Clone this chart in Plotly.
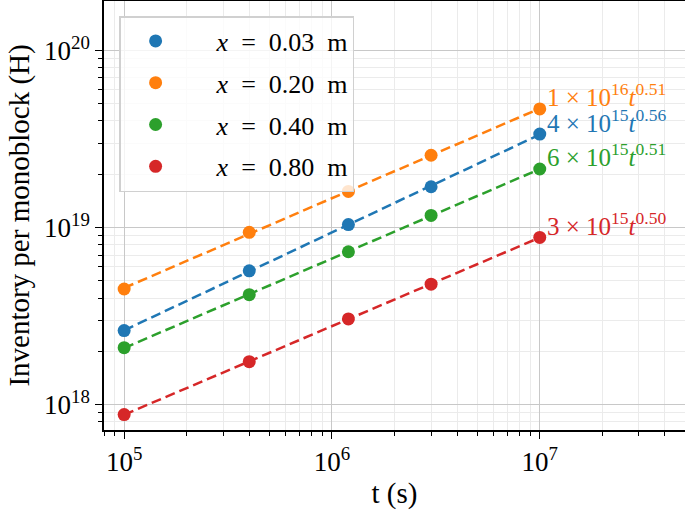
import numpy as np
import plotly.graph_objects as go

t_values = [1e5, 4e5, 1.2e6, 3e6, 1e7]
series_names = ["&nbsp;&nbsp;&nbsp;&nbsp;<i>x</i>&nbsp; = &nbsp;0.03 &nbsp;m",
                "&nbsp;&nbsp;&nbsp;&nbsp;<i>x</i>&nbsp; = &nbsp;0.20 &nbsp;m",
                "&nbsp;&nbsp;&nbsp;&nbsp;<i>x</i>&nbsp; = &nbsp;0.40 &nbsp;m",
                "&nbsp;&nbsp;&nbsp;&nbsp;<i>x</i>&nbsp; = &nbsp;0.80 &nbsp;m"]
inv_x003 = [2.62e18, 5.7e18, 1.04e19, 1.70e19, 3.37e19]
inv_x020 = [4.5e18, 9.4e18, 1.6e19, 2.56e19, 4.67e19]
inv_x040 = [2.1e18, 4.18e18, 7.3e18, 1.17e19, 2.14e19]
inv_x080 = [8.8e17, 1.75e18, 3.05e18, 4.79e18, 8.8e18]
fit_labels = ["4 × 10<sup>15</sup><i>t</i><sup>0.56</sup>",
              "1 × 10<sup>16</sup><i>t</i><sup>0.51</sup>",
              "6 × 10<sup>15</sup><i>t</i><sup>0.51</sup>",
              "3 × 10<sup>15</sup><i>t</i><sup>0.50</sup>"]
colors = ["#1f77b4", "#ff7f0e", "#2ca02c", "#d62728"]
x_tickvals = [1e5, 1e6, 1e7]
x_ticktext = ["10<sup>5</sup>", "10<sup>6</sup>", "10<sup>7</sup>"]
y_tickvals = [1e18, 1e19, 1e20]
y_ticktext = ["10<sup>18</sup>", "10<sup>19</sup>", "10<sup>20</sup>"]

FONT = "Liberation Serif"
fig = go.Figure()
all_series = [inv_x003, inv_x020, inv_x040, inv_x080]
t = np.array(t_values)
for i, (name, vals) in enumerate(zip(series_names, all_series)):
    v = np.array(vals)
    p = np.polyfit(np.log10(t), np.log10(v), 1)
    fit = 10 ** np.polyval(p, np.log10(t))
    fig.add_trace(go.Scatter(x=t, y=fit, mode="lines", line=dict(color=colors[i], width=2.5, dash="10px,5px"),
                             showlegend=False, hoverinfo="skip"))
    fig.add_trace(go.Scatter(x=t, y=v, mode="markers", name=name, legendgroup=f"g{i}",
                             marker=dict(color=colors[i], size=13)))
    fig.add_annotation(x=np.log10(t[-1]), y=np.log10(fit[-1]), text=fit_labels[i], showarrow=False,
                       xanchor="left", yanchor="middle", xshift=5, yshift=14,
                       font=dict(family=FONT, size=25, color=colors[i]))

fig.update_layout(
    width=685, height=510,
    margin=dict(l=104, r=0, t=1, b=80),
    plot_bgcolor="white", paper_bgcolor="white",
    font=dict(family=FONT, size=27, color="black"),
    legend=dict(x=0.026, y=0.965, xanchor="left", yanchor="top",
                bgcolor="rgba(255,255,255,0.8)", bordercolor="#d0d0d0", borderwidth=1.5,
                font=dict(family=FONT, size=26), traceorder="grouped", tracegroupgap=5,
                itemwidth=60),
)
fig.update_xaxes(type="log", range=[np.log10(8e4), np.log10(5e7)],
                 tickvals=x_tickvals, ticktext=x_ticktext,
                 showline=True, linecolor="black", linewidth=1.5, mirror=True,
                 ticks="outside", ticklen=7, tickcolor="black",
                 showgrid=True, gridcolor="#c8c8c8", gridwidth=1.2,
                 minor=dict(dtick="D1", ticks="outside", ticklen=4, tickcolor="black",
                            showgrid=True, gridcolor="#ebebeb", gridwidth=1),
                 title=dict(text="t (s)", font=dict(size=29), standoff=8),
                 zeroline=False)
fig.update_yaxes(type="log", range=[np.log10(7.2e17), np.log10(1.9e20)],
                 tickvals=y_tickvals, ticktext=y_ticktext,
                 showline=True, linecolor="black", linewidth=1.5, mirror=False,
                 ticks="outside", ticklen=7, tickcolor="black",
                 showgrid=True, gridcolor="#c8c8c8", gridwidth=1.2,
                 minor=dict(dtick="D1", ticks="outside", ticklen=4, tickcolor="black",
                            showgrid=True, gridcolor="#ebebeb", gridwidth=1),
                 title=dict(text="Inventory per monoblock (H)", font=dict(size=29), standoff=6),
                 zeroline=False)
fig.write_html("out.html", config={"displayModeBar": False},
               post_script="document.body.style.margin='0';")
